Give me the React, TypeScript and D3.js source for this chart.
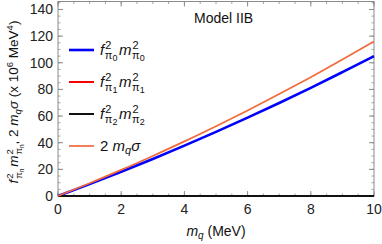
import React from "react";
import * as d3 from "d3";

// values (x 10^6 MeV^4)
const mq = [0, 1, 2, 3, 4, 5, 6, 7, 8, 9, 10];
const pi0 = [0, 8.9, 18.2, 27.8, 37.8, 48.1, 58.8, 69.8, 81.2, 93.0, 105];
const pi1 = [0, 0, 0, 0, 0, 0, 0, 0, 0, 0, 0];
const pi2 = [0, 0, 0, 0, 0, 0, 0, 0, 0, 0, 0];
const sigmaTerm = [0, 9.6, 19.6, 30.1, 41.0, 52.4, 64.2, 76.5, 89.2, 102.4, 116];

const xTicks = [0, 2, 4, 6, 8, 10];
const yTicks = [0, 20, 40, 60, 80, 100, 120, 140];

const W = 382;
const H = 244;
const FONT = "'Liberation Sans', Arial, sans-serif";

const series = [
  { sub: "0", values: pi0, color: "#0000ff", width: 2.6 },
  { sub: "1", values: pi1, color: "#ff0000", width: 2 },
  { sub: "2", values: pi2, color: "#111111", width: 2 },
];
const orange = "#f26a3c";

export default function App() {
  const x = d3.scaleLinear().domain([0, 10]).range([58, 374]);
  const y = d3.scaleLinear().domain([0, 146]).range([196, 1.5]);

  const line = (vals: number[]) =>
    d3
      .line<number>()
      .x((_, i) => x(mq[i]))
      .y((d) => y(d))
      .curve(d3.curveMonotoneX)(vals) || "";

  const [x0, x1] = x.range();
  const [y0, y1] = y.range();
  const frame = "#8c8c8c";

  const legendRows = [0, 1, 2, 3];
  const legendY = (i: number) => 50 + i * 32;

  return (
    <svg
      width={W}
      height={H}
      style={{ position: "absolute", left: 0, top: 0, background: "#fff" }}
      fontFamily={FONT}
    >
      {/* minor ticks */}
      {x.ticks(20).map((t) => (
        <g key={"xm" + t} stroke={frame} strokeWidth={0.8}>
          <line x1={x(t)} x2={x(t)} y1={y0} y2={y0 - 2.5} />
          <line x1={x(t)} x2={x(t)} y1={y1} y2={y1 + 2.5} />
        </g>
      ))}
      {y.ticks(30).map((t) => (
        <g key={"ym" + t} stroke={frame} strokeWidth={0.8}>
          <line x1={x0} x2={x0 + 2.5} y1={y(t)} y2={y(t)} />
          <line x1={x1} x2={x1 - 2.5} y1={y(t)} y2={y(t)} />
        </g>
      ))}
      {xTicks.map((t) => (
        <g key={"x" + t}>
          <line x1={x(t)} x2={x(t)} y1={y0} y2={y0 - 5} stroke={frame} />
          <line x1={x(t)} x2={x(t)} y1={y1} y2={y1 + 5} stroke={frame} />
          <text x={x(t)} y={214} textAnchor="middle" fontSize={14} fill="#222">
            {t}
          </text>
        </g>
      ))}
      {yTicks.map((t) => (
        <g key={"y" + t}>
          <line x1={x0} x2={x0 + 5} y1={y(t)} y2={y(t)} stroke={frame} />
          <line x1={x1} x2={x1 - 5} y1={y(t)} y2={y(t)} stroke={frame} />
          <text x={53} y={y(t) + 5} textAnchor="end" fontSize={14} fill="#222">
            {t}
          </text>
        </g>
      ))}
      <rect x={x0} y={y1} width={x1 - x0} height={y0 - y1} fill="none" stroke={frame} strokeWidth={1} />

      {/* curves */}
      {series.map((s) => (
        <path key={s.sub} d={line(s.values)} fill="none" stroke={s.color} strokeWidth={s.width} />
      ))}
      <path d={line(sigmaTerm)} fill="none" stroke={orange} strokeWidth={1.7} />

      <text x={194} y={23} fontSize={14} fill="#111">
        Model IIB
      </text>

      {/* legend */}
      {legendRows.map((i) => {
        const ly = legendY(i);
        const isOrange = i === 3;
        const color = isOrange ? orange : series[i].color;
        return (
          <g key={"lg" + i}>
            <line x1={69} x2={94} y1={ly} y2={ly} stroke={color} strokeWidth={isOrange ? 1.7 : series[i].width} />
            {isOrange ? (
              <text x={100} y={ly + 5} fontSize={15} fill="#111">
                2 <tspan fontStyle="italic">m</tspan>
                <tspan fontSize={11} fontStyle="italic" dy={3}>q</tspan>
                <tspan fontStyle="italic" dy={-3}>σ</tspan>
              </text>
            ) : (
              <text x={100} y={ly + 5} fontSize={15} fill="#111">
                <tspan fontStyle="italic">f</tspan>
                <tspan fontSize={11} dx={1} dy={-6.5}>2</tspan>
                <tspan fontSize={11} dx={-6.5} dy={10.5}>π</tspan>
                <tspan fontSize={9} dy={2}>{series[i].sub}</tspan>
                <tspan fontStyle="italic" dx={1.5} dy={-6}>m</tspan>
                <tspan fontSize={11} dx={1} dy={-6.5}>2</tspan>
                <tspan fontSize={11} dx={-6.5} dy={10.5}>π</tspan>
                <tspan fontSize={9} dy={2}>{series[i].sub}</tspan>
              </text>
            )}
          </g>
        );
      })}

      {/* axis labels */}
      <text x={216} y={236} textAnchor="middle" fontSize={14} fill="#111">
        <tspan fontStyle="italic">m</tspan>
        <tspan fontSize={10} fontStyle="italic" dy={3}>q</tspan>
        <tspan dy={-3}> (MeV)</tspan>
      </text>
      <text
        transform="translate(18,102) rotate(-90)"
        textAnchor="middle"
        fontSize={13.5}
        fill="#111"
      >
        <tspan fontStyle="italic">f</tspan>
        <tspan fontSize={9.5} dx={1} dy={-5}>2</tspan>
        <tspan fontSize={9.5} dx={-5.5} dy={9}>π</tspan>
        <tspan fontSize={6.5} dy={2}>n</tspan>
        <tspan fontStyle="italic" dx={2} dy={-6}>m</tspan>
        <tspan fontSize={9.5} dx={1} dy={-5}>2</tspan>
        <tspan fontSize={9.5} dx={-5.5} dy={9}>π</tspan>
        <tspan fontSize={6.5} dy={2}>n</tspan>
        <tspan dy={-6}>, 2 </tspan>
        <tspan fontStyle="italic">m</tspan>
        <tspan fontSize={9.5} fontStyle="italic" dy={3}>q</tspan>
        <tspan fontStyle="italic" dy={-3}>σ</tspan>
        <tspan> (x 10</tspan>
        <tspan fontSize={9.5} dy={-5}>6</tspan>
        <tspan dy={5}> MeV</tspan>
        <tspan fontSize={9.5} dy={-5}>4</tspan>
        <tspan dy={5}>)</tspan>
      </text>
    </svg>
  );
}
